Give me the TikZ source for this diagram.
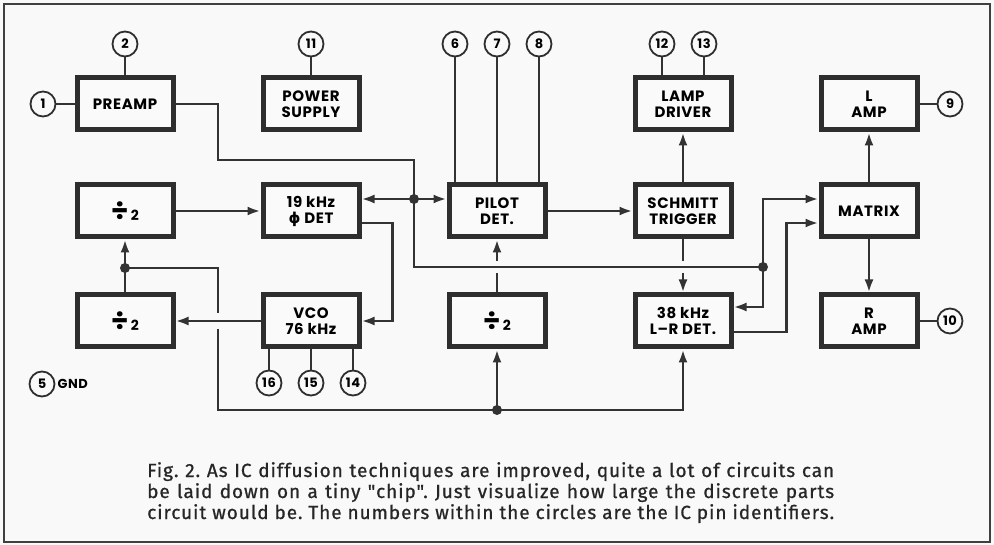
\documentclass[tikz,border=0pt]{standalone}
\usepackage{amsmath,amssymb}
\usepackage{fontspec}
\setmainfont{Poppins}[LetterSpace=4]
\newfontfamily\capfont{Fira Sans}[LetterSpace=5, FakeBold=0.8]
\newfontfamily\phifont{DejaVu Sans}
\usetikzlibrary{arrows.meta,calc,positioning}
\newcommand{\halve}{{\fontsize{28}{16}\selectfont ÷}\,{\fontsize{14}{16}\selectfont 2}}

\begin{document}
\frenchspacing
\begin{tikzpicture}[x=1pt, y=-1pt, >={Latex[length=13pt,width=9pt]},
	blk/.style={draw=black!82, line width=5pt, fill=gray!4, minimum width=96pt, minimum height=52pt, align=center, font=\fontsize{15}{16}\selectfont\bfseries},
	pin/.style={circle, draw=black!82, line width=1.8pt, minimum size=25pt, inner sep=0pt, font=\fontsize{13}{13}\selectfont\bfseries},
	wire/.style={draw=black!80, line width=2.8pt},
	caption/.style={anchor=base west, inner sep=0pt, text=black!85, font=\capfont\fontsize{19}{21}\selectfont}]
	\useasboundingbox (0,0) rectangle (994,545);
	\fill[gray!5] (0,0) rectangle (994,545);
	\draw[line width=2.5pt, black!75] (4,4) rectangle (990,542);

	\node[blk] (preamp) at (125,104) {PREAMP};
	\node[blk] (power) at (311,104) {POWER\\SUPPLY};
	\node[blk] (ldrv) at (683,104) {LAMP\\DRIVER};
	\node[blk] (lamp) at (869,104) {L\\AMP};
	\node[blk] (divA) at (125,211) {\halve};
	\node[blk] (phdet) at (311,211) {19 kHz\\{\phifont\bfseries ϕ} DET};
	\node[blk] (pilot) at (497,211) {PILOT\\DET.};
	\node[blk] (schmitt) at (683,211) {SCHMITT\\TRIGGER};
	\node[blk] (matrix) at (869,211) {MATRIX};
	\node[blk] (divB) at (125,321) {\halve};
	\node[blk] (vco) at (311,321) {VCO\\76 kHz};
	\node[blk] (divC) at (497,321) {\halve};
	\node[blk] (lrdet) at (683,321) {38 kHz\\L--R DET.};
	\node[blk] (ramp) at (869,321) {R\\AMP};

	\foreach \n/\x/\b in {2/125/preamp, 11/311/power, 6/455/pilot, 7/497/pilot, 8/539/pilot, 12/662/ldrv, 13/704/ldrv} {
		\node[pin] (p\n) at (\x,44) {\n};
		\draw[wire] (p\n) -- (p\n |- \b.north);
	}
	\foreach \n/\x in {16/269, 15/311, 14/353} {
		\node[pin] (p\n) at (\x,383) {\n};
		\draw[wire] (p\n) -- (p\n |- vco.south);
	}
	\node[pin] (p1) at (43,104) {1};
	\node[pin] (p9) at (950,104) {9};
	\node[pin] (p10) at (950,321) {10};
	\node[pin] (p5) at (42,384) {5};
	\node[right=1pt of p5, inner sep=1pt, font=\fontsize{13}{13}\selectfont\bfseries] (gnd) {GND};
	\draw[wire] (p1) -- (preamp);
	\draw[wire] (lamp) -- (p9);
	\draw[wire] (ramp) -- (p10);

	\coordinate (j1) at (414,199);
	\coordinate (j2) at (763,267);
	\coordinate (j3) at (125,268);
	\coordinate (j4) at (497,410);
	\coordinate (x1) at (218,321);
	\coordinate (x2) at (divC.north |- j2);
	\coordinate (x3) at (lrdet.north |- j2);

	\draw[wire] (preamp.east) -| (218,160) -| (j1);
	\draw[wire,->] (j1) -- (phdet.east |- j1);
	\draw[wire,->] (j1) -- (pilot.west |- j1);
	\draw[wire] (j1) |- (j2);
	\draw[wire,->] (j2) |- (matrix.west |- j1);
	\draw[wire,->] (j2) |- ($(lrdet.east)+(0,-14)$);
	\draw[wire,->] ($(lrdet.east)+(0,11)$) -| ($(matrix.west)+(-32,12)$) -- ($(matrix.west)+(0,12)$);
	\draw[wire,->] (divA) -- (phdet);
	\draw[wire,->] ($(phdet.east)+(0,12)$) -| ($(vco.east)+(31,0)$) -- (vco.east);
	\draw[wire,->] (vco) -- (divB);
	\draw[wire,->] (divB) -- (divA);
	\draw[wire] (j3) -| ($(x1)+(0,-8)$);
	\draw[wire] ($(x1)+(0,8)$) |- (j4);
	\draw[wire,->] (j4) -- (divC.south);
	\draw[wire,->] (j4) -| (lrdet.south);
	\draw[wire] (divC.north) -- ($(x2)+(0,6)$);
	\draw[wire,->] ($(x2)+(0,-6)$) -- (pilot.south);
	\draw[wire] (schmitt.south) -- ($(x3)+(0,-6)$);
	\draw[wire,->] ($(x3)+(0,6)$) -- (lrdet.north);
	\draw[wire,->] (pilot) -- (schmitt);
	\draw[wire,->] (schmitt) -- (ldrv);
	\draw[wire,->] (matrix) -- (lamp);
	\draw[wire,->] (matrix) -- (ramp);
	\foreach \j in {j1,j2,j3,j4} {\fill[black!80] (\j) circle (5pt);}

	\node[caption] (cap1) at (147,477) {\makebox[687pt][s]{Fig. 2. As IC diffusion techniques are improved, quite a lot of circuits can}};
	\node[caption] (cap2) at (147,498) {\makebox[687pt][s]{be laid down on a tiny "chip". Just visualize how large the discrete parts}};
	\node[caption] (cap3) at (147,519) {\makebox[687pt][s]{circuit would be. The numbers within the circles are the IC pin identifiers.}};
\end{tikzpicture}
\end{document}
